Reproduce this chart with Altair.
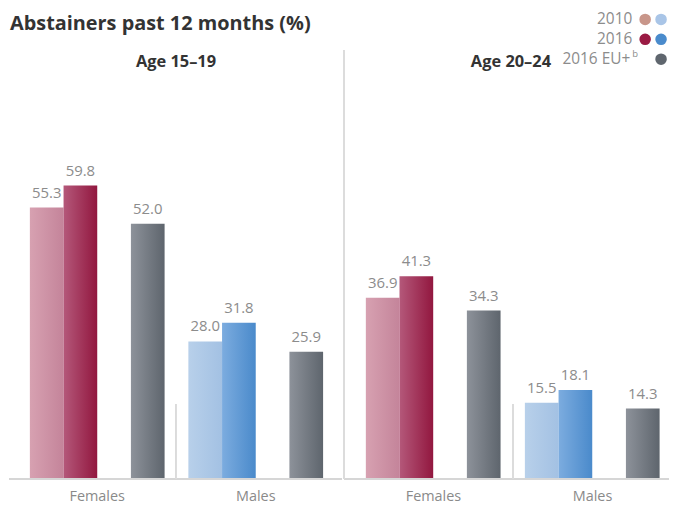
import altair as alt
import pandas as pd

ages = ["Age 15–19", "Age 20–24"]
sexes = ["Females", "Males"]
series = ["2010", "2016", "EU"]
values_15_19_f = [55.3, 59.8, 52.0]
values_15_19_m = [28.0, 31.8, 25.9]
values_20_24_f = [36.9, 41.3, 34.3]
values_20_24_m = [15.5, 18.1, 14.3]

rows = []
for age, sex, vals in [
    (ages[0], "Females", values_15_19_f),
    (ages[0], "Males", values_15_19_m),
    (ages[1], "Females", values_20_24_f),
    (ages[1], "Males", values_20_24_m),
]:
    for s, v in zip(series, vals):
        rows.append({"age": age, "sex": sex, "series": s, "value": v})
df = pd.DataFrame(rows)

FONT = "Open Sans"
H = 472
YMAX = 95.7


def grad(c1, c2):
    return alt.Gradient(
        gradient="linear",
        x1=0, x2=1, y1=0, y2=0,
        stops=[alt.GradientStop(color=c1, offset=0), alt.GradientStop(color=c2, offset=1)],
    )


gradients = {
    ("Females", "2010"): grad("#d7a1b1", "#c4849a"),
    ("Females", "2016"): grad("#b4587a", "#92173f"),
    ("Males", "2010"): grad("#b8d0ea", "#a3c1e3"),
    ("Males", "2016"): grad("#7cacdf", "#4a8acb"),
    ("Females", "EU"): grad("#8d929a", "#5e656d"),
    ("Males", "EU"): grad("#8d929a", "#5e656d"),
}

xo_enc = alt.XOffset(
    "series:N",
    scale=alt.Scale(domain=["2010", "2016", "gap", "EU"], paddingInner=0, paddingOuter=0),
)
y_enc = alt.Y("value:Q", scale=alt.Scale(domain=[0, YMAX]), axis=None)


def txt(label, x, y, size, color, weight="normal", align="center", baseline="alphabetic"):
    return (
        alt.Chart(pd.DataFrame({"t": [label]}))
        .mark_text(font=FONT, fontSize=size, color=color, fontWeight=weight,
                   align=align, baseline=baseline, x=x, y=y)
        .encode(text="t:N")
    )


def panel(age, first, W, xrange, sep_x):
    x_enc = alt.X(
        "sex:N",
        sort=sexes,
        scale=alt.Scale(domain=sexes, range=xrange, paddingInner=0.15, paddingOuter=0),
        axis=alt.Axis(
            title=None, ticks=False, domain=False, labelAngle=0, labelFont=FONT,
            labelFontSize=14.5, labelColor="#8a8a8a", labelPadding=11,
        ),
    )
    base = alt.Chart(df[df["age"] == age])
    layers = []
    for (sex, s), g in gradients.items():
        layers.append(
            base.transform_filter(
                (alt.datum.sex == sex) & (alt.datum.series == s)
            ).mark_bar(fill=g).encode(x=x_enc, xOffset=xo_enc, y=y_enc)
        )
    layers.append(
        base.mark_text(font=FONT, fontSize=15, color="#8c8c8c", dy=-10, baseline="alphabetic")
        .encode(x=x_enc, xOffset=xo_enc, y=y_enc, text=alt.Text("value:Q", format=".1f"))
    )
    # baseline (axis line across the full panel)
    layers.append(
        base.mark_rule(color="#d6d6d6", strokeWidth=1.5).encode(
            x=alt.value(0), x2=alt.value(W), y=alt.value(H)
        )
    )
    # short separator between the Females and Males groups
    layers.append(
        base.mark_rule(color="#dcdcdc", strokeWidth=1.2).encode(
            x=alt.value(sep_x), y=alt.value(H - 75), y2=alt.value(H)
        )
    )
    # age group header
    layers.append(txt(age, 168, 58, 16.5, "#333333", weight="bold"))
    if first:
        layers.append(txt("Abstainers past 12 months (%)", 1, 21, 20, "#333333",
                          weight="bold", align="left"))
    else:
        layers.append(
            base.mark_rule(color="#dcdcdc", strokeWidth=1.2).encode(
                x=alt.value(0), y=alt.value(41), y2=alt.value(H)
            )
        )
        leg_rows = [
            ("2010", 10, ["#c8968a", "#a9c5e7"]),
            ("2016", 30, ["#9a1a43", "#4a8bcc"]),
            ("2016 EU+", 50, [None, "#5f666e"]),
        ]
        for label, yy, cols in leg_rows:
            xr = 290 if label != "2016 EU+" else 288
            layers.append(txt(label, xr, yy, 15.5, "#8c8c8c", align="right", baseline="middle"))
            for cx, c in zip([303, 319], cols):
                if c:
                    layers.append(
                        alt.Chart(pd.DataFrame({"t": [label]}))
                        .mark_point(filled=True, opacity=1, size=135, color=c, x=cx, y=yy)
                        .encode(detail="t:N")
                    )
        layers.append(txt("b", 290, 45, 9.5, "#8c8c8c", align="left", baseline="middle"))
    return alt.layer(*layers).properties(width=W, height=H)


chart = (
    alt.hconcat(
        panel(ages[0], True, 335, [21, 316], 168),
        panel(ages[1], False, 327, [22, 318], 170),
        spacing=0,
    )
    .properties(padding=0)
    .configure_view(strokeWidth=0, stroke="transparent")
)

chart.save("out.html", embed_options={"renderer": "svg", "actions": False})
